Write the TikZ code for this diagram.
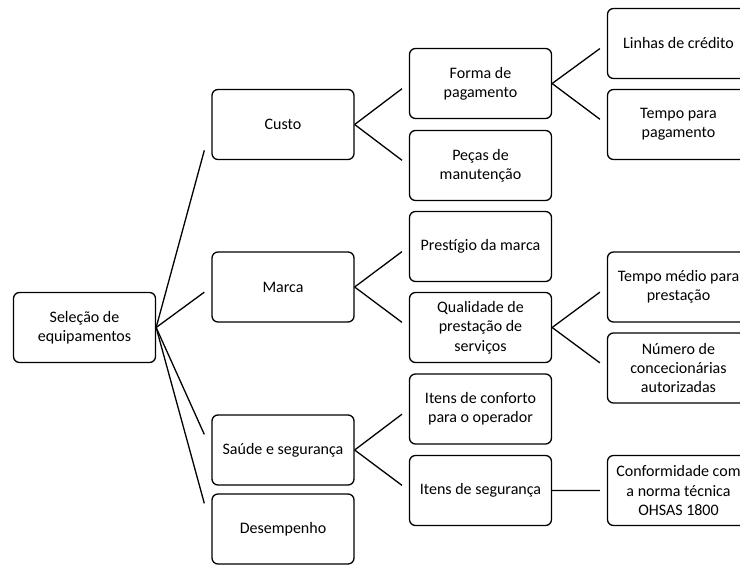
\documentclass[tikz,border=0pt]{standalone}
\usepackage{fontspec}
\setmainfont{Carlito}
\usetikzlibrary{calc}
\tikzset{
  box/.style={draw=black, line width=1.3pt, rounded corners=6pt, minimum width=142pt, minimum height=70pt, align=center, inner sep=2pt, font=\fontsize{16}{19.3}\selectfont, fill=white},
  conn/.style={draw=black, line width=1.3pt}
}
\newcommand{\linkto}[2]{\draw[conn] (#1.east) -- ($(#1.east)!0.8727!(#2.west)$);}
\begin{document}
\begin{tikzpicture}[x=1pt,y=-1pt]
\useasboundingbox (0,0) rectangle (740,565);
\node[box] (root) at (84.5,327.5) {Seleção de\\equipamentos};
\node[box] (custo) at (283,124.5) {Custo};
\node[box] (marca) at (283,287) {Marca};
\node[box] (saude) at (283,450) {Saúde e segurança};
\node[box] (desemp) at (283,529) {Desempenho};
\node[box] (forma) at (480.5,83.5) {Forma de\\pagamento};
\node[box] (pecas) at (480.5,165.5) {Peças de\\manutenção};
\node[box] (prest) at (480.5,246.5) {Prestígio da marca};
\node[box] (qual) at (480.5,327.5) {Qualidade de\\prestação de\\serviços};
\node[box] (conf) at (480.5,409) {Itens de conforto\\para o operador};
\node[box] (iseg) at (480.5,490.5) {Itens de segurança};
\node[box] (linhas) at (678.5,43.5) {Linhas de crédito};
\node[box] (tempo) at (678.5,124.5) {Tempo para\\pagamento};
\node[box] (tmedio) at (678.5,287) {Tempo médio para\\prestação};
\node[box] (numero) at (678.5,368) {Número de\\concecionárias\\autorizadas};
\node[box] (ohsas) at (678.5,490.5) {Conformidade com\\a norma técnica\\OHSAS 1800};
\linkto{root}{custo}
\linkto{root}{marca}
\linkto{root}{saude}
\linkto{root}{desemp}
\linkto{custo}{forma}
\linkto{custo}{pecas}
\linkto{marca}{prest}
\linkto{marca}{qual}
\linkto{saude}{conf}
\linkto{saude}{iseg}
\linkto{forma}{linhas}
\linkto{forma}{tempo}
\linkto{qual}{tmedio}
\linkto{qual}{numero}
\linkto{iseg}{ohsas}
\end{tikzpicture}
\end{document}
